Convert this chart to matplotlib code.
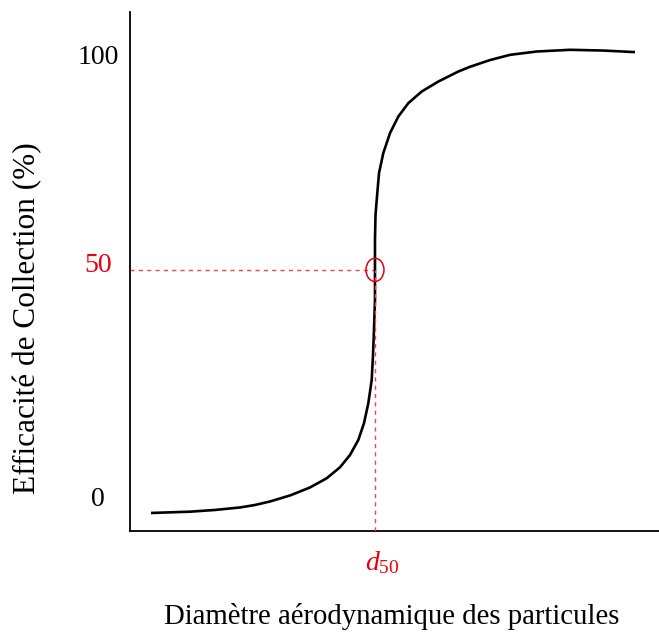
import matplotlib
matplotlib.use("Agg")
import matplotlib.pyplot as plt
from matplotlib.patches import Ellipse

# Data (schematic collection-efficiency curve)
diameter = [0.397, 1.134, 1.607, 2.079, 2.363, 2.647, 3.025, 3.403, 3.718,
            3.970, 4.159, 4.316, 4.423, 4.505, 4.569, 4.594, 4.612, 4.631,
            4.631, 4.631, 4.641, 4.664, 4.707, 4.788, 4.915, 5.072, 5.261,
            5.514, 5.828, 6.206, 6.427, 6.805, 7.183, 7.688, 8.318, 8.947,
            9.546]
efficiency = [0.0, 0.28, 0.65, 1.19, 1.73, 2.49, 3.79, 5.52, 7.51,
              9.89, 12.55, 15.80, 19.42, 23.74, 28.79, 34.20, 39.61, 46.10,
              52.60, 59.09, 64.50, 67.75, 73.53, 77.86, 82.19, 85.78, 88.68,
              91.19, 93.35, 95.52, 96.54, 98.0, 99.13, 99.85, 100.22, 100.06,
              99.72]
d50_x = 4.631
d50_y = 52.6
ytick_labels = ["0", "50", "100"]
ytick_pos = [3.5, 54.3, 99.1]

plt.rcParams['font.family'] = ['Liberation Serif', 'DejaVu Serif']
plt.rcParams['mathtext.fontset'] = 'custom'
plt.rcParams['mathtext.rm'] = 'Liberation Serif'
plt.rcParams['mathtext.it'] = 'Liberation Serif:italic'

fig = plt.figure(figsize=(6.59, 6.33), dpi=100)
ax = fig.add_axes([130/659, 102/633, 529/659, 519/633])
ax.set_xlim(0, 10)
ax.set_ylim(-3.9, 108.4)

ax.plot(diameter, efficiency, color='black', lw=1.9, solid_capstyle='butt',
        solid_joinstyle='round', zorder=3)

red = '#e8000b'
ax.plot([0, d50_x], [d50_y, d50_y], color='#ff4040', lw=1.0, dashes=(3, 3), zorder=2)
ax.plot([d50_x, d50_x], [-3.9, d50_y], color='#ff4040', lw=1.0, dashes=(3, 3), zorder=4)
ax.add_patch(Ellipse((d50_x, d50_y), 0.34, 5.0, fill=False, edgecolor=red, lw=1.1, zorder=5))

for s in ['top', 'right']:
    ax.spines[s].set_visible(False)
for s in ['left', 'bottom']:
    ax.spines[s].set_linewidth(1.3)

ax.set_xticks([])
ax.set_yticks(ytick_pos)
ax.set_yticklabels(ytick_labels, fontsize=20)
ax.tick_params(axis='y', length=0, pad=23)
for lbl, c in zip(ax.get_yticklabels(), ['black', red, 'black']):
    lbl.set_horizontalalignment('center')
    lbl.set_color(c)

fig.text(382/659, 1 - 563/633, r'$d_{50}$', color=red, fontsize=20, ha='center', va='center')
fig.text(392/659, 1 - 617/633, 'Diamètre aérodynamique des particules', fontsize=20.7,
         ha='center', va='center')
fig.text(28/659, 1 - 318/633, 'Efficacité de Collection (%)', fontsize=22.5,
         ha='center', va='center', rotation=90)

fig.savefig('out.png', dpi=100)
